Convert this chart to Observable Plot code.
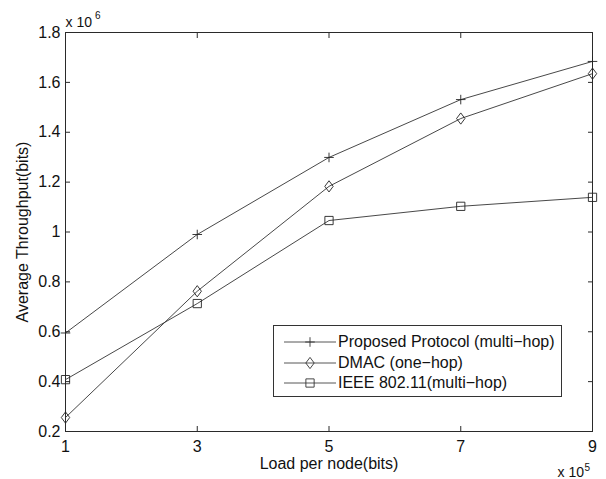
<!DOCTYPE html>
<html><head><meta charset="utf-8">
<script src="https://cdn.jsdelivr.net/npm/d3@7"></script>
<script src="https://cdn.jsdelivr.net/npm/@observablehq/plot@0.6"></script>
<style>
body{margin:0;background:#fff;}
#wrap{position:relative;width:606px;height:479px;font-family:"Liberation Sans",Arial,Helvetica,sans-serif;}
#legend{position:absolute;left:273px;top:325px;width:287px;height:70px;border:1px solid #333;background:#fff;font-size:16px;color:#111;}
.row{position:absolute;left:0;height:20px;width:287px;}
.row svg{position:absolute;left:0;top:0;}
.row span{position:absolute;left:64px;top:0;line-height:20px;white-space:nowrap;}
</style></head>
<body><div id="wrap"></div>
<script>
const loads = [1, 3, 5, 7, 9];
const proposed = [0.595, 0.99, 1.299, 1.531, 1.684];
const dmac = [0.256, 0.7625, 1.183, 1.455, 1.635];
const ieee = [0.408, 0.713, 1.046, 1.103, 1.139];
const seriesNames = ["Proposed Protocol (multi\u2212hop)", "DMAC (one\u2212hop)", "IEEE 802.11(multi\u2212hop)"];
const xTicks = [1, 3, 5, 7, 9];
const yTicks = [0.2, 0.4, 0.6, 0.8, 1.0, 1.2, 1.4, 1.6, 1.8];
const xLabel = "Load per node(bits)";
const yLabel = "Average Throughput(bits)";

// MATLAB-like marker shapes
const plusSym = {draw(c, size) { const r = Math.sqrt(size / Math.PI) * 1.45; c.moveTo(-r, 0); c.lineTo(r, 0); c.moveTo(0, -r); c.lineTo(0, r); }};
const diamondSym = {draw(c, size) { const r = Math.sqrt(size / Math.PI); const h = r * 1.7, w = r * 1.27; c.moveTo(0, -h); c.lineTo(w, 0); c.lineTo(0, h); c.lineTo(-w, 0); c.closePath(); }};
const squareSym = {draw(c, size) { const r = Math.sqrt(size / Math.PI) * 1.25; c.moveTo(-r, -r); c.lineTo(r, -r); c.lineTo(r, r); c.lineTo(-r, r); c.closePath(); }};
const symObjs = [plusSym, diamondSym, squareSym];

const allSeries = [proposed, dmac, ieee];
const rows = [];
allSeries.forEach((vals, i) => vals.forEach((v, j) => rows.push({series: seriesNames[i], sym: i, x: loads[j], y: v})));

const ink = "#2a2a2a";
const fmt = d => String(Math.round(d * 10) / 10);
const font = '"Liberation Sans", Arial, Helvetica, sans-serif';

const chart = Plot.plot({
  width: 606, height: 479,
  marginLeft: 65, marginRight: 14, marginTop: 32, marginBottom: 48,
  style: {fontFamily: font, fontSize: "16px", color: "#111", background: "#fff"},
  x: {domain: [1, 9], ticks: xTicks},
  y: {domain: [0.2, 1.8], ticks: yTicks},
  marks: [
    Plot.frame({stroke: ink}),
    Plot.axisY(yTicks, {anchor: "left", tickSize: -5, tickPadding: 10, tickFormat: fmt, label: null, stroke: ink, fontSize: 16}),
    Plot.axisY(yTicks, {anchor: "right", tickSize: -5, tickFormat: () => "", label: null, stroke: ink}),
    Plot.axisX(xTicks, {anchor: "bottom", tickSize: -5, tickPadding: 14, tickFormat: fmt, label: null, stroke: ink, fontSize: 16}),
    Plot.axisX(xTicks, {anchor: "top", tickSize: -5, tickFormat: () => "", label: null, stroke: ink}),
    Plot.line(rows, {x: "x", y: "y", z: "series", stroke: "#333", strokeWidth: 0.9}),
    ...symObjs.map((s, i) => Plot.dot(rows.filter(d => d.sym === i), {x: "x", y: "y", symbol: () => s, r: 3.3, stroke: "#222", strokeWidth: 0.9, fill: "none"})),
    Plot.text([xLabel], {frameAnchor: "bottom", text: d => d, textAnchor: "middle", lineAnchor: "middle", dy: 32, fontSize: 16, fill: "#111"}),
    Plot.text([yLabel], {frameAnchor: "left", text: d => d, textAnchor: "middle", lineAnchor: "middle", rotate: -90, dx: -43, fontSize: 16, fill: "#111"}),
    Plot.text(["x 10"], {frameAnchor: "top-left", text: d => d, textAnchor: "start", lineAnchor: "bottom", dy: -6, fontSize: 14, fill: "#111"}),
    Plot.text(["6"], {frameAnchor: "top-left", text: d => d, textAnchor: "start", lineAnchor: "bottom", dx: 29.5, dy: -14, fontSize: 10, fill: "#111"}),
    Plot.text(["x 10"], {frameAnchor: "bottom-right", text: d => d, textAnchor: "start", lineAnchor: "bottom", dx: -35, dy: 45, fontSize: 14, fill: "#111"}),
    Plot.text(["5"], {frameAnchor: "bottom-right", text: d => d, textAnchor: "start", lineAnchor: "bottom", dx: -8, dy: 39, fontSize: 10, fill: "#111"})
  ]
});
const wrap = document.getElementById("wrap");
wrap.appendChild(chart);

const legend = document.createElement("div");
legend.id = "legend";
const rowTops = [6, 27, 47];
seriesNames.forEach((name, i) => {
  const r = document.createElement("div");
  r.className = "row";
  r.style.top = rowTops[i] + "px";
  const sym = d3.symbol(symObjs[i], Math.PI * 3.3 * 3.3)();
  r.innerHTML = `<svg width="64" height="20"><line x1="10" x2="62" y1="10" y2="10" stroke="#444" stroke-width="0.9"/><path d="${sym}" transform="translate(36,10)" fill="none" stroke="#333" stroke-width="0.9"/></svg><span>${name}</span>`;
  legend.appendChild(r);
});
wrap.appendChild(legend);
</script>
</body></html>
